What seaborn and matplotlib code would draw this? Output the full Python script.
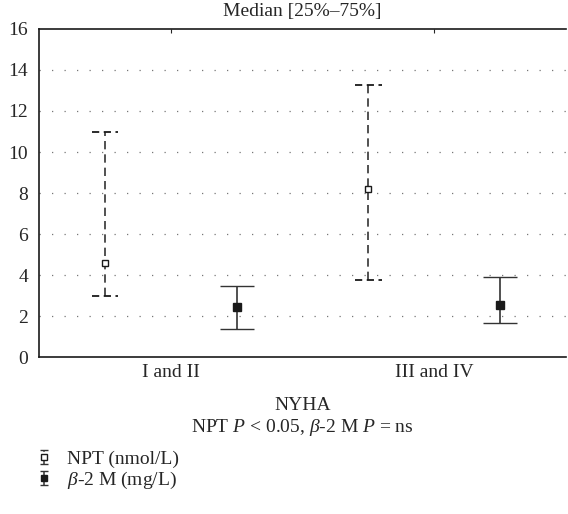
import numpy as np
import pandas as pd
import matplotlib
matplotlib.use("Agg")
import matplotlib.pyplot as plt
from matplotlib.legend_handler import HandlerErrorbar
import seaborn as sns

# Data: median with 25%-75% range
groups = ["I and II", "III and IV"]
npt_median = [4.6, 8.2]
npt_q1 = [3.0, 3.75]
npt_q3 = [11.0, 13.25]
b2m_median = [2.45, 2.55]
b2m_q1 = [1.35, 1.65]
b2m_q3 = [3.45, 3.88]

df = pd.DataFrame({
    "group": groups * 2,
    "series": ["NPT (nmol/L)"] * 2 + ["$\\beta$-2 M (mg/L)"] * 2,
    "median": npt_median + b2m_median,
    "q1": npt_q1 + b2m_q1,
    "q3": npt_q3 + b2m_q3,
})

sns.set_style("white")
plt.rcParams["font.family"] = ["Liberation Serif", "DejaVu Serif"]
plt.rcParams["mathtext.fontset"] = "custom"
plt.rcParams["mathtext.rm"] = "Liberation Serif"
plt.rcParams["mathtext.it"] = "Liberation Serif:italic"

fig = plt.figure(figsize=(5.68, 5.14), dpi=100)
ax = fig.add_axes([0.0687, 0.3054, 0.928, 0.6382])

xpos = np.arange(len(groups))
offsets = {"NPT (nmol/L)": -0.25, "$\\beta$-2 M (mg/L)": 0.25}
styles = {
    "NPT (nmol/L)": dict(mfc="white", ms=5, cap=9.5, dashed=True),
    "$\\beta$-2 M (mg/L)": dict(mfc="#1a1a1a", ms=5.5, cap=12, dashed=False),
}

handles = []
for name, sub in df.groupby("series", sort=False):
    st = styles[name]
    x = xpos + offsets[name]
    yerr = [sub["median"] - sub["q1"], sub["q3"] - sub["median"]]
    cont = ax.errorbar(x, sub["median"], yerr=yerr, fmt="s", color="#1a1a1a",
                       mfc=st["mfc"], mec="#1a1a1a", ms=st["ms"], mew=1,
                       ecolor="#333333", elinewidth=1.2, capsize=st["cap"],
                       capthick=1.2, zorder=3)
    # small proxy for the legend icon
    proxy = ax.errorbar([np.nan], [np.nan], yerr=[[1], [1]], fmt="s",
                        color="#1a1a1a", mfc=st["mfc"], mec="#1a1a1a",
                        ms=4.5, mew=1, ecolor="#333333", elinewidth=1.1,
                        capsize=3, capthick=1.1)
    if st["dashed"]:
        for bar in list(cont[2]) + list(proxy[2]):
            bar.set_linestyle((0, (5, 3)))
        for capl in cont[1]:
            capl.set_visible(False)
        # dashed caps drawn as short dashed segments
        for xi, lo, hi in zip(x, sub["q1"], sub["q3"]):
            for yv in (lo, hi):
                ax.plot([xi - 0.05, xi + 0.05], [yv, yv], color="#1a1a1a",
                        lw=1.3, dashes=(4, 2.5), zorder=3)
    handles.append(proxy)

ax.set_xlim(-0.5, 1.5)
ax.set_ylim(0, 16)
ax.set_yticks(range(0, 17, 2))
ax.set_xticks(xpos)
ax.set_xticklabels(groups, fontsize=14)
ax.tick_params(axis="y", labelsize=14, length=0, pad=8)
ax.tick_params(axis="x", direction="in", length=3, top=True, pad=5, width=0.8)

for yv in range(2, 16, 2):
    ax.axhline(yv, color="#777777", lw=0.9, ls=(0, (1, 9)), zorder=1)

for side in ["left", "bottom", "top"]:
    ax.spines[side].set_visible(True)
    ax.spines[side].set_color("#1a1a1a")
    ax.spines[side].set_linewidth(1.2)
ax.spines["right"].set_visible(False)

ax.set_title("Median [25%–75%]", fontsize=14, pad=9)
ax.set_xlabel("NYHA\nNPT $P$ < 0.05, $\\beta$-2 M $P$ = ns", fontsize=14,
              labelpad=11.5, linespacing=1.2)

fig.legend(handles=handles, labels=list(offsets.keys()), loc="upper left",
           bbox_to_anchor=(0.0634, 0.124), frameon=False, fontsize=14,
           handlelength=0.8, handletextpad=0.8, labelspacing=0.1,
           borderpad=0, borderaxespad=0,
           handler_map={type(handles[0]): HandlerErrorbar(xerr_size=0.35)})

fig.savefig("out.png", dpi=100)
